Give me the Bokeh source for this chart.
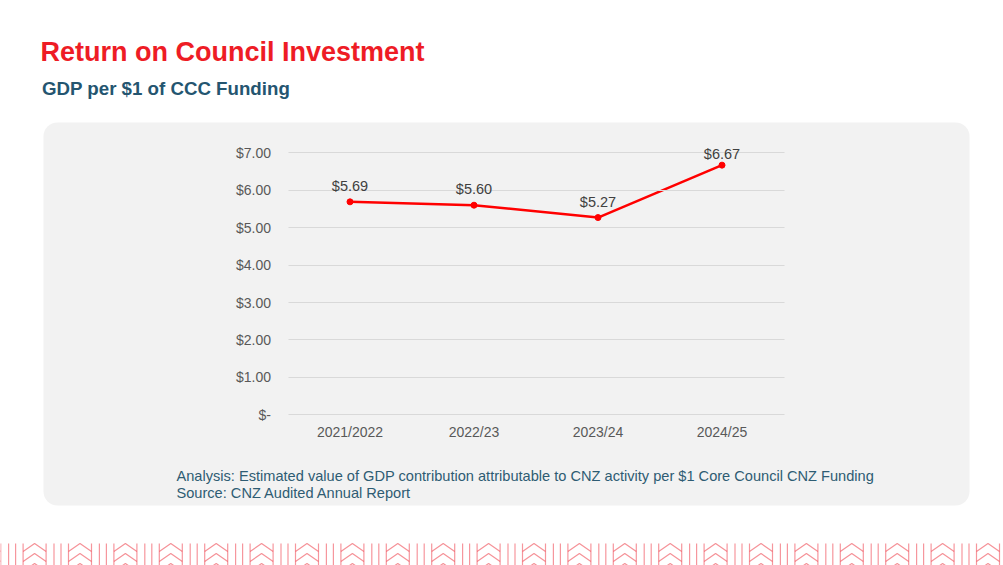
from bokeh.plotting import figure
from bokeh.models import (ColumnDataSource, LinearAxis, FixedTicker, Range1d,
                          LabelSet, BoxAnnotation)
from bokeh.core.properties import value
from bokeh.embed import file_html
from bokeh.resources import INLINE

# ---------------- data ----------------
categories = ["2021/2022", "2022/23", "2023/24", "2024/25"]
gdp_per_dollar = [5.69, 5.60, 5.27, 6.67]
y_ticks = [0, 1, 2, 3, 4, 5, 6, 7]
y_tick_labels = ["$-", "$1.00", "$2.00", "$3.00", "$4.00", "$5.00", "$6.00", "$7.00"]
title_text = "Return on Council Investment"
subtitle_text = "GDP per $1 of CCC Funding"
note_lines = [
    "Analysis: Estimated value of GDP contribution attributable to CNZ activity per $1 Core Council CNZ Funding",
    "Source: CNZ Audited Annual Report",
]

# ---------------- layout (page pixels) ----------------
W, H = 1003, 565
PL, PR, PT, PB = 287.5, 783.5, 152.3, 414.3   # plot area
FONT = "Liberation Sans"
label_offsets = [11, 11, 11, 6]

n = len(categories)
step = (PR - PL) / n
x_first = PL + step / 2
x_start = (0 - x_first) / step
x_end = (W - x_first) / step
ymax = y_ticks[-1]
ppu = (PB - PT) / ymax
y_start = (PB - H) / ppu
y_end = PB / ppu


def up(page_y):
    """page pixel (from top) -> upward pixel coordinate"""
    return H - page_y


p = figure(width=W, height=H,
           x_range=Range1d(x_start, x_end), y_range=Range1d(y_start, y_end),
           x_axis_type=None, y_axis_type=None,
           toolbar_location=None, output_backend="svg", min_border=0)
p.outline_line_color = None
p.background_fill_color = "white"
p.border_fill_color = "white"
p.extra_x_ranges = {"px": Range1d(0, W)}
p.extra_y_ranges = {"px": Range1d(0, H)}

# grey rounded panel
panel = BoxAnnotation(left=43, right=969, top=up(122), bottom=up(505),
                      x_range_name="px", y_range_name="px",
                      fill_color="#F2F2F2", fill_alpha=1.0, line_color=None,
                      border_radius=14, level="image")
p.add_layout(panel)

# y axis (its inward ticks form the gridlines)
yaxis = LinearAxis(ticker=FixedTicker(ticks=y_ticks),
                   major_label_overrides={t: l for t, l in zip(y_ticks, y_tick_labels)},
                   fixed_location=-0.5,
                   axis_line_color=None,
                   major_tick_in=int(round(PR - PL)), major_tick_out=0,
                   major_tick_line_color="#D9D9D9", major_tick_line_width=1,
                   minor_tick_line_color=None,
                   major_label_standoff=17,
                   major_label_text_font=FONT,
                   major_label_text_font_size="14px",
                   major_label_text_color="#595959")
p.add_layout(yaxis, "left")

xaxis = LinearAxis(ticker=FixedTicker(ticks=list(range(n))),
                   major_label_overrides={i: c for i, c in enumerate(categories)},
                   fixed_location=0,
                   axis_line_color=None,
                   major_tick_in=0, major_tick_out=0,
                   major_tick_line_color=None, minor_tick_line_color=None,
                   major_label_standoff=9,
                   major_label_text_font=FONT,
                   major_label_text_font_size="14px",
                   major_label_text_color="#595959")
p.add_layout(xaxis, "below")

src = ColumnDataSource(dict(x=list(range(n)), y=gdp_per_dollar,
                            label=[f"${v:.2f}" for v in gdp_per_dollar],
                            dy=label_offsets))
p.line("x", "y", source=src, line_color="#FF0000", line_width=2.5)
p.scatter("x", "y", source=src, size=6, fill_color="#FF0000", line_color="#FF0000")
p.add_layout(LabelSet(x="x", y="y", text="label", y_offset="dy", source=src,
                      text_align="center", text_baseline="alphabetic",
                      text_font=value(FONT), text_font_size=value("14.5px"),
                      text_color="#404040"))

# titles and notes (page-pixel coordinates)
p.text(x=[40], y=[up(51.5)], text=[title_text], x_range_name="px", y_range_name="px",
       text_font=value(FONT), text_font_style=value("bold"),
       text_font_size=value("27px"), text_color="#EE1C25",
       text_baseline="alphabetic", text_align="left")
p.text(x=[41.5], y=[up(87.8)], text=[subtitle_text], x_range_name="px", y_range_name="px",
       text_font=value(FONT), text_font_style=value("bold"),
       text_font_size=value("18.7px"), text_color="#245570",
       text_baseline="alphabetic", text_align="left")
p.text(x=[176] * len(note_lines), y=[up(475.3 + i * 16.8) for i in range(len(note_lines))],
       text=note_lines, x_range_name="px", y_range_name="px",
       text_font=value(FONT), text_font_size=value("14.6px"), text_color="#2E5C73",
       text_baseline="alphabetic", text_align="left")

# decorative footer pattern
period = 45.4
bx0 = 22.6
bw = 23.0
vx, cxs, cys = [], [], []
for k in range(-1, 23):
    x0 = bx0 + k * period
    vx += [x0 - 14.5, x0 - 7.5, x0, x0 + bw]
    for peak in (543, 553, 563):
        cxs.append([x0, x0 + bw / 2, x0 + bw])
        cys.append([up(peak + 8), up(peak), up(peak + 8)])
p.segment(x0=vx, x1=vx, y0=[up(543)] * len(vx), y1=[up(566)] * len(vx),
          x_range_name="px", y_range_name="px",
          line_color="#F47C84", line_alpha=0.8, line_width=1.2)
p.multi_line(xs=cxs, ys=cys, x_range_name="px", y_range_name="px",
             line_color="#EF4A54", line_alpha=0.6, line_width=1.2)

open("out.html", "w").write(file_html(p, INLINE))
